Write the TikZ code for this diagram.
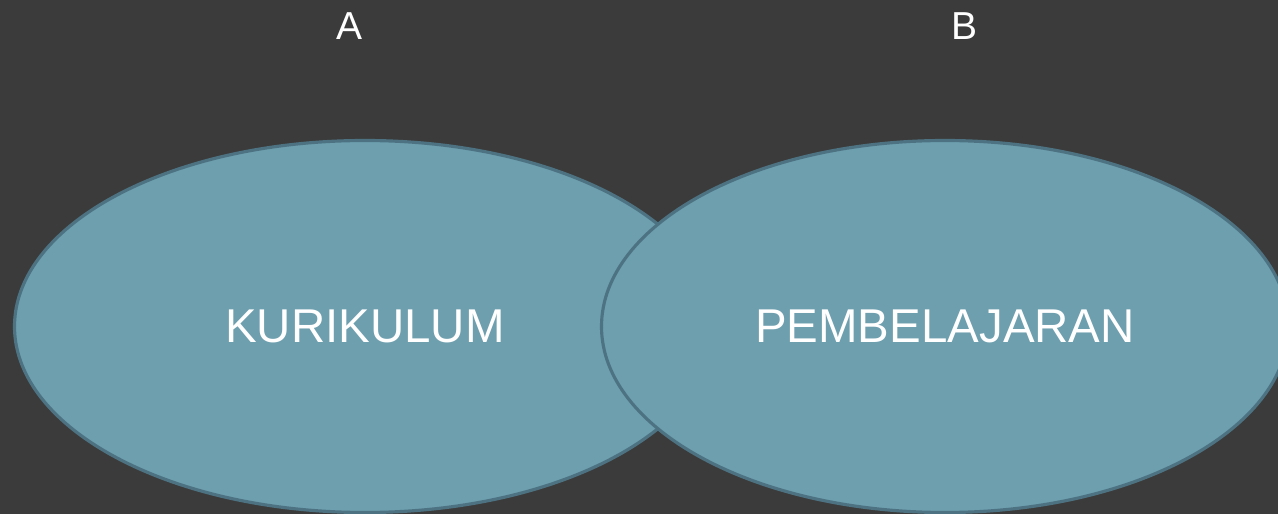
\documentclass[tikz,border=0pt]{standalone}
\usepackage{fontspec}
\setmainfont{Liberation Sans}
\usepackage{xcolor}
\usetikzlibrary{shapes.geometric}
\definecolor{bggrey}{HTML}{3B3B3B}
\definecolor{setfill}{HTML}{6D9FAF}
\definecolor{setline}{HTML}{4D7382}

\begin{document}
\begin{tikzpicture}[
    setellipse/.style={ellipse,draw=setline,fill=setfill,line width=1.8pt,
        inner sep=0pt,text=white,font=\fontsize{27}{32}\selectfont},
    settitle/.style={text=white,font=\fontsize{22.2}{26}\selectfont}
]
    \fill[bggrey] (0,0) rectangle (25.56,-10.28);
    \useasboundingbox (0,0) rectangle (25.56,-10.28);
    \node[setellipse,minimum width=14.02cm,minimum height=7.44cm] (kurikulum) at (7.30,-6.53) {
        \raisebox{-0.06cm}{KURIKULUM}
    };
    \node[setellipse,minimum width=13.74cm,minimum height=7.44cm] (pembelajaran) at (18.90,-6.53) {
        \raisebox{-0.06cm}{PEMBELAJARAN}
    };
    \node[settitle] (setA) at (7.00,-0.52) {A};
    \node[settitle] (setB) at (19.30,-0.52) {B};
\end{tikzpicture}
\end{document}
